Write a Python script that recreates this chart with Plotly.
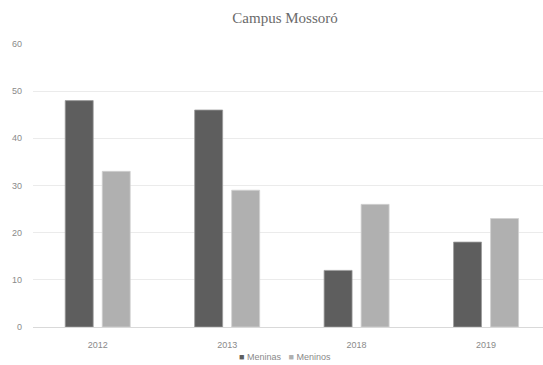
import plotly.graph_objects as go

anos = ["2012", "2013", "2018", "2019"]
meninas = [48, 46, 12, 18]
meninos = [33, 29, 26, 23]
y_ticks = [0, 10, 20, 30, 40, 50, 60]

cor_meninas = "#5e5e5e"
cor_meninos = "#b0b0b0"
label_font = dict(family="Liberation Sans, Arial, sans-serif", size=9, color="#8a8a8a")

fig = go.Figure()
fig.add_trace(go.Bar(
    x=anos, y=meninas, name="Meninas",
    marker=dict(color=cor_meninas, line=dict(color="#9a9a9a", width=0.8)),
    width=0.216, offset=-0.251,
))
fig.add_trace(go.Bar(
    x=anos, y=meninos, name="Meninos",
    marker=dict(color=cor_meninos, line=dict(color="#d0d0d0", width=0.8)),
    width=0.216, offset=0.035,
))

# compact legend drawn as a text line with small square swatches
legenda = (
    f'<span style="color:{cor_meninas}">■</span> Meninas'
    f'&nbsp;&nbsp;&nbsp;<span style="color:{cor_meninos}">■</span> Meninos'
)
fig.add_annotation(
    text=legenda, xref="paper", yref="paper",
    x=0.494, y=-0.106, xanchor="center", yanchor="middle",
    showarrow=False, font=label_font,
)

fig.update_layout(
    width=543, height=365,
    margin=dict(l=33, r=0, t=44, b=38),
    paper_bgcolor="white", plot_bgcolor="white",
    barmode="group",
    showlegend=False,
    title=dict(
        text="Campus Mossoró",
        x=0.525, xref="container", xanchor="center",
        y=0.952, yref="container", yanchor="middle",
        font=dict(family="Liberation Serif, Times New Roman, serif", size=15, color="#6a6a6a"),
    ),
    xaxis=dict(
        type="category", range=[-0.5, 3.44],
        showgrid=False, showline=True, linecolor="#d9d9d9", linewidth=1,
        ticks="", tickfont=label_font, ticklabelstandoff=9,
    ),
    yaxis=dict(
        range=[0, 60], tickvals=y_ticks,
        showgrid=True, gridcolor="#ebebeb", gridwidth=1,
        zeroline=False, showline=False,
        ticks="", tickfont=label_font, ticklabelstandoff=10,
    ),
)

fig.write_html("out.html")
